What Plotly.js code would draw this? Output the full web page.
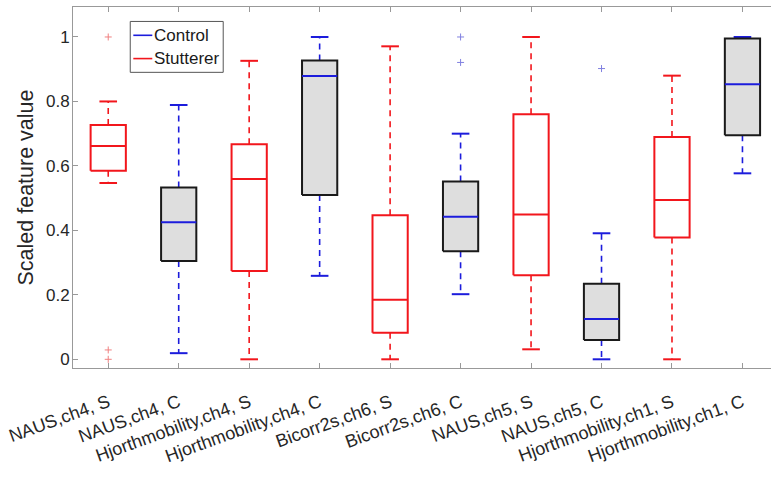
<!DOCTYPE html>
<html>
<head>
<meta charset="utf-8">
<script src="https://cdn.plot.ly/plotly-3.0.1.min.js"></script>
<style>html,body{margin:0;padding:0;background:#fff;}#chart{width:771px;height:477px;}</style>
</head>
<body>
<div id="chart"></div>
<script>
// ---- data ----
const categories = ['NAUS,ch4, S','NAUS,ch4, C','Hjorthmobility,ch4, S','Hjorthmobility,ch4, C',
  'Bicorr2s,ch6, S','Bicorr2s,ch6, C','NAUS,ch5, S','NAUS,ch5, C','Hjorthmobility,ch1, S','Hjorthmobility,ch1, C'];
const groups = ['Stutterer','Control','Stutterer','Control','Stutterer','Control','Stutterer','Control','Stutterer','Control'];
const lowerWhisker = [0.547, 0.019, 0.000, 0.259, 0.000, 0.202, 0.031, 0.000, 0.000, 0.577];
const q1           = [0.585, 0.305, 0.274, 0.510, 0.082, 0.335, 0.261, 0.060, 0.378, 0.695];
const medians      = [0.662, 0.425, 0.559, 0.879, 0.185, 0.442, 0.449, 0.125, 0.494, 0.853];
const q3           = [0.727, 0.533, 0.667, 0.927, 0.447, 0.552, 0.760, 0.234, 0.690, 0.995];
const upperWhisker = [0.800, 0.789, 0.926, 1.000, 0.971, 0.700, 1.000, 0.391, 0.880, 1.000];
const outliers     = [[1.0, 0.029, 0.0], [], [], [], [], [1.0, 0.921], [], [0.902], [], []];
const yTicks = [0, 0.2, 0.4, 0.6, 0.8, 1];
const yTickText = ['0', '0.2', '0.4', '0.6', '0.8', '1'];

// ---- styles ----
const RED = '#f2161c', BLUE = '#1c1cdc';
const style = {
  Stutterer: {edge: RED, fill: 'rgba(0,0,0,0)', med: RED, whisk: RED, out: '#f08080'},
  Control:   {edge: '#1a1a1a', fill: '#dedede', med: BLUE, whisk: BLUE, out: '#8080e0'}
};
const halfBox = 0.25, halfCap = 0.125;
const FONT = 'Liberation Sans, Arial, sans-serif';

const traces = [];
categories.forEach((c, i) => {
  const x = i + 1, s = style[groups[i]];
  traces.push({type:'scatter', mode:'lines', hoverinfo:'skip', showlegend:false,
    x:[x, x, null, x, x], y:[q3[i], upperWhisker[i], null, q1[i], lowerWhisker[i]],
    line:{color:s.whisk, width:1.6, dash:'6px,5px'}});
  traces.push({type:'scatter', mode:'lines', hoverinfo:'skip', showlegend:false,
    x:[x-halfCap, x+halfCap, null, x-halfCap, x+halfCap],
    y:[upperWhisker[i], upperWhisker[i], null, lowerWhisker[i], lowerWhisker[i]],
    line:{color:s.whisk, width:2}});
  traces.push({type:'scatter', mode:'lines', hoverinfo:'skip', showlegend:false,
    x:[x-halfBox, x+halfBox, x+halfBox, x-halfBox, x-halfBox],
    y:[q1[i], q1[i], q3[i], q3[i], q1[i]],
    fill:'toself', fillcolor:s.fill, line:{color:s.edge, width:2}});
  traces.push({type:'scatter', mode:'lines', hoverinfo:'skip', showlegend:false,
    x:[x-halfBox, x+halfBox], y:[medians[i], medians[i]],
    line:{color:s.med, width:2}});
  if (outliers[i].length) {
    traces.push({type:'scatter', mode:'markers', hoverinfo:'skip', showlegend:false,
      x:outliers[i].map(() => x), y:outliers[i],
      marker:{symbol:'cross-thin', size:5, line:{color:s.out, width:1}}});
  }
});

// manual MATLAB-style legend (paper coordinates)
const legendEntries = [{name:'Control', color:BLUE}, {name:'Stutterer', color:RED}];
const shapes = [{type:'rect', xref:'paper', yref:'paper', x0:0.082, x1:0.2152, y0:0.819, y1:0.960,
  line:{color:'#555', width:1}, fillcolor:'#fff', layer:'above'}];
const annotations = [];
legendEntries.forEach((e, k) => {
  const yy = 0.9216 - k*0.0645;
  shapes.push({type:'line', xref:'paper', yref:'paper', x0:0.0864, x1:0.1136, y0:yy, y1:yy,
    line:{color:e.color, width:1.6}, layer:'above'});
  annotations.push({xref:'paper', yref:'paper', x:0.1136, y:yy, xanchor:'left', yanchor:'middle',
    text:e.name, showarrow:false, font:{family:FONT, size:17, color:'#1a1a1a'}});
});

const layout = {
  width:771, height:477,
  margin:{l:73, r:0, t:7, b:109},
  paper_bgcolor:'#fff', plot_bgcolor:'#fff',
  showlegend:false,
  font:{family:FONT, color:'#262626'},
  xaxis:{range:[0.5, 10.405], tickvals:categories.map((c,i)=>i+1), ticktext:categories,
    tickangle:-20, ticks:'inside', ticklen:5, tickcolor:'#999', showline:true, linecolor:'#999',
    linewidth:1, mirror:'ticks', showgrid:false, zeroline:false, ticklabelstandoff:16,
    tickfont:{size:18, color:'#262626'}},
  yaxis:{range:[-0.027, 1.093], tickvals:yTicks, ticktext:yTickText,
    ticks:'inside', ticklen:5, tickcolor:'#999', showline:true, linecolor:'#999', linewidth:1,
    showgrid:false, zeroline:false, ticklabelstandoff:-1, tickfont:{size:17, color:'#262626'},
    title:{text:'Scaled feature value', font:{size:21.5, color:'#262626'}, standoff:6}},
  shapes:shapes, annotations:annotations
};

Plotly.newPlot('chart', traces, layout, {displayModeBar:false, staticPlot:true});
</script>
</body>
</html>
